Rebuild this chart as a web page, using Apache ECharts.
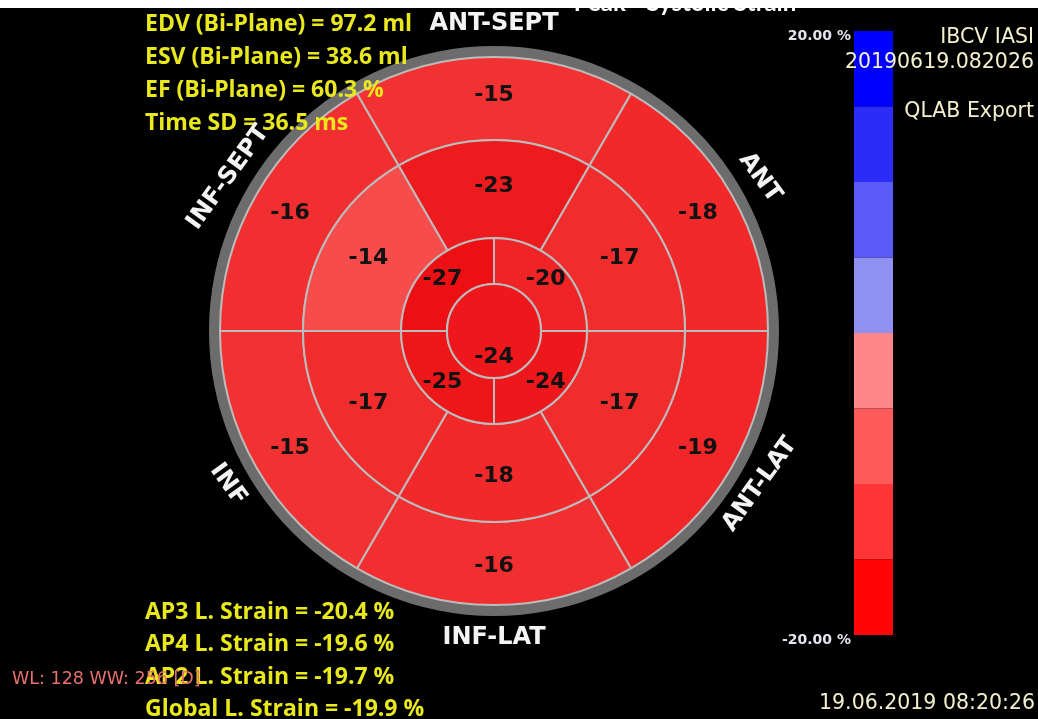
<!DOCTYPE html>
<html>
<head>
<meta charset="utf-8">
<script src="https://cdn.jsdelivr.net/npm/echarts@6/dist/echarts.min.js"></script>
<style>
html,body{margin:0;padding:0;background:#000;}
#chart{width:1038px;height:719px;}
</style>
</head>
<body>
<div id="chart"></div>
<script>
// ---------- data ----------
const apexValues = [-24];
const apicalValues = [-20, -24, -25, -27];           // clockwise from top: ANT, LAT, INF, SEPT
const midValues = [-23, -17, -17, -18, -17, -14];     // clockwise from ANT-SEPT
const basalValues = [-15, -18, -19, -16, -15, -16];   // clockwise from ANT-SEPT
const wallLabels = ['ANT-SEPT', 'ANT', 'ANT-LAT', 'INF-LAT', 'INF', 'INF-SEPT'];
const wallAngles = [90, 30, -30, -90, -150, 150];
const infoTop = ['EDV (Bi-Plane) = 97.2 ml', 'ESV (Bi-Plane) = 38.6 ml', 'EF (Bi-Plane) = 60.3 %', 'Time SD = 36.5 ms'];
const infoBottom = ['AP3 L. Strain = -20.4 %', 'AP4 L. Strain = -19.6 %', 'AP2 L. Strain = -19.7 %', 'Global L. Strain = -19.9 %'];
const rightInfo = ['IBCV IASI', '20190619.082026', 'QLAB Export'];
const dateText = '19.06.2019 08:20:26';
const wlText = 'WL: 128 WW: 256 [D]';
const titleText = 'Peak - Systolic Strain';
const bandEdges = [-20, -15, -10, -5, 0, 5, 10, 15, 20];
const bandColors = ['#ff0505', '#ff3434', '#ff5a5a', '#ff8787', '#9090f2', '#5a5af6', '#2c2cf8', '#0000ff'];
const scaleTicks = [-20, 20];

// ---------- style ----------
const CX = 494, CY = 331;
const R = [0, 47, 93, 191, 274, 285];
const shadeStops = [[-27, [236, 16, 20]], [-19, [240, 38, 40]], [-15, [242, 50, 50]], [-14, [246, 76, 76]]];
function shade(v) {
  if (v <= shadeStops[0][0]) return rgb(shadeStops[0][1]);
  for (let i = 1; i < shadeStops.length; i++) {
    if (v <= shadeStops[i][0]) {
      const a = shadeStops[i - 1], b = shadeStops[i];
      const t = (v - a[0]) / (b[0] - a[0]);
      return rgb(a[1].map((c, k) => c + (b[1][k] - c) * t));
    }
  }
  return rgb(shadeStops[shadeStops.length - 1][1]);
}
function rgb(a) { return 'rgb(' + a.map(Math.round).join(',') + ')'; }

function ring(values, r0, r1, startAngle) {
  return {
    type: 'pie', silent: true, animation: false, clockwise: true,
    center: [CX, CY], radius: [r0, r1], startAngle: startAngle,
    avoidLabelOverlap: false,
    itemStyle: { borderColor: '#bcbcbc', borderWidth: 2 },
    label: {
      show: true, position: 'inside', rotate: 0,
      formatter: p => String(p.data.strain),
      color: '#111', fontFamily: '"DejaVu Sans"', fontWeight: 'bold', fontSize: 22
    },
    labelLine: { show: false },
    emphasis: { disabled: true },
    data: values.map(v => ({ value: 1, strain: v, itemStyle: { color: shade(v) } }))
  };
}

const series = [
  {
    type: 'pie', silent: true, animation: false, center: [CX, CY], radius: [R[4] - 2, R[5]],
    label: { show: false }, labelLine: { show: false }, emphasis: { disabled: true },
    data: [{ value: 1, itemStyle: { color: '#6c6c6c' } }]
  },
  ring(basalValues, R[3], R[4], 120),
  ring(midValues, R[2], R[3], 120),
  ring(apicalValues, R[1], R[2], 90),
  ring(apexValues, R[0], R[1], 90)
];

// colour bar as stacked bars
const bars = [];
for (let i = 0; i < bandColors.length; i++) {
  const lo = bandEdges[i], hi = bandEdges[i + 1];
  const v = hi <= 0 ? lo - hi : hi - lo;
  bars.push({
    type: 'bar', stack: 'scale', silent: true, animation: false,
    barWidth: '100%', data: [v], itemStyle: { color: bandColors[i] }, _lo: lo
  });
}
const negBars = bars.filter(b => b._lo < 0).reverse();
const posBars = bars.filter(b => b._lo >= 0);
[...negBars, ...posBars].forEach(b => { delete b._lo; series.push(b); });

const graphics = [];
graphics.push({ type: 'text', z: 10, style: { text: titleText, x: 685, y: 3, align: 'center', verticalAlign: 'middle', fill: '#fff', font: 'bold 24px Lato' } });
graphics.push({ type: 'rect', z: 11, shape: { x: 0, y: 0, width: 1038, height: 8 }, style: { fill: '#fff' } });

infoTop.forEach((t, i) => graphics.push({ type: 'text', z: 20, style: { text: t, x: 145, y: 24 + i * 33, verticalAlign: 'middle', fill: '#e8e81c', font: 'bold 23px "Open Sans"' } }));
infoBottom.forEach((t, i) => graphics.push({ type: 'text', z: 20, style: { text: t, x: 145, y: 612 + i * 32.5, verticalAlign: 'middle', fill: '#e8e81c', font: 'bold 23px "Open Sans"' } }));
graphics.push({ type: 'text', z: 21, style: { text: wlText, x: 12, y: 679, verticalAlign: 'middle', fill: '#e8706c', font: '17.5px "DejaVu Sans"' } });
rightInfo.forEach((t, i) => graphics.push({ type: 'text', z: 20, style: { text: t, x: 1034, y: [38, 63, 112][i], align: 'right', verticalAlign: 'middle', fill: '#f4efcc', font: '20.5px "DejaVu Sans"' } }));
graphics.push({ type: 'text', z: 20, style: { text: dateText, x: 1035, y: 704, align: 'right', verticalAlign: 'middle', fill: '#f4efcc', font: '20.5px "DejaVu Sans"' } });

wallLabels.forEach((t, i) => {
  const a = wallAngles[i] * Math.PI / 180;
  const r = 307;
  let rot = wallAngles[i] > 0 ? wallAngles[i] - 90 : wallAngles[i] + 90;
  rot = rot * 0.9 * Math.PI / 180;
  graphics.push({
    type: 'text', z: 20, x: CX + r * Math.cos(a), y: CY - r * Math.sin(a), rotation: rot,
    style: { text: t, x: 0, y: 0, align: 'center', verticalAlign: 'middle', fill: '#f4f4f4', font: 'bold 24px "DejaVu Sans"' }
  });
});

const chart = echarts.init(document.getElementById('chart'), null, { renderer: 'canvas' });
chart.setOption({
  backgroundColor: '#000',
  animation: false,
  grid: { left: 854, top: 31, width: 39, height: 604 },
  xAxis: { type: 'category', data: ['scale'], show: false },
  yAxis: {
    type: 'value', min: -20, max: 20, interval: 40,
    axisLine: { show: false }, axisTick: { show: false }, splitLine: { show: false },
    axisLabel: {
      margin: 3, formatter: v => scaleTicks.includes(v) ? v.toFixed(2) + ' %' : '',
      color: '#e4e4ee', fontFamily: '"DejaVu Sans"', fontWeight: 'bold', fontSize: 14,
      verticalAlign: 'top', lineHeight: 10
    }
  },
  series: series,
  graphic: graphics
});
</script>
</body>
</html>
